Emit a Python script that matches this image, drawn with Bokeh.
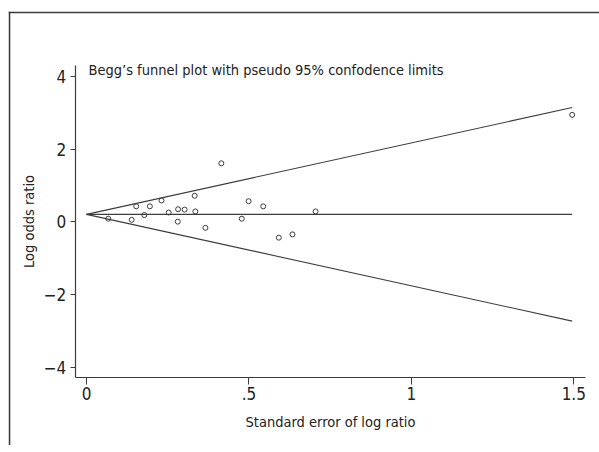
from bokeh.plotting import figure
from bokeh.models import FixedTicker, Range1d, Label, ColumnDataSource, Span
from bokeh.embed import file_html
from bokeh.resources import INLINE

# ---- data ----
se = [0.415, 0.153, 0.195, 0.231, 0.333, 0.499, 0.544, 0.067, 0.139, 0.178, 0.253,
      0.282, 0.302, 0.335, 0.281, 0.366, 0.478, 0.592, 0.634, 0.705, 1.495]
log_or = [1.61, 0.43, 0.43, 0.59, 0.72, 0.57, 0.43, 0.09, 0.06, 0.19, 0.26,
          0.35, 0.34, 0.29, 0.01, -0.16, 0.09, -0.43, -0.34, 0.29, 2.94]
pooled = 0.21
z95 = 1.96

x_ticks = [0, 0.5, 1, 1.5]
x_tick_labels = ["0", ".5", "1", "1.5"]
y_ticks = [-4, -2, 0, 2, 4]
y_tick_labels = ["\u22124", "\u22122", "0", "2", "4"]

title_text = "Begg\u2019s funnel plot with pseudo 95% confodence limits"
x_title = "Standard error of log ratio"
y_title = "Log odds ratio"

FONT = "DejaVu Sans Condensed"
INK = "#3c3c3c"
TXT = "#222222"

# axis extents (data units) and the surrounding page frame
X_AXIS_BOUNDS = (-0.0348, 1.536)
Y_AXIS_BOUNDS = (-4.258, 4.293)

se_max = max(se)
funnel = ColumnDataSource(dict(
    x=[0, se_max],
    mid=[pooled, pooled],
    up=[pooled, pooled + z95 * se_max],
    lo=[pooled, pooled - z95 * se_max],
))
pts = ColumnDataSource(dict(x=se, y=log_or))

p = figure(width=599, height=445, output_backend="svg", toolbar_location=None,
           x_range=Range1d(-0.2401, 1.5791), y_range=Range1d(-6.132, 5.775),
           min_border_left=8, min_border_right=0, min_border_top=11, min_border_bottom=0)
p.outline_line_color = None
p.xgrid.visible = False
p.ygrid.visible = False
p.background_fill_color = "white"
p.border_fill_color = "white"

# outer frame lines (top and left)
p.add_layout(Span(location=5.750, dimension="width", line_color=INK, line_width=1.8))
p.add_layout(Span(location=-0.2373, dimension="height", line_color=INK, line_width=1.8))

for col in ["mid", "up", "lo"]:
    p.line("x", col, source=funnel, line_color=INK, line_width=1.1)

p.scatter("x", "y", source=pts, size=5, marker="circle", fill_color=None,
          line_color=INK, line_width=1)

p.xaxis.ticker = FixedTicker(ticks=x_ticks)
p.xaxis.major_label_overrides = dict(zip(x_ticks, x_tick_labels))
p.yaxis.ticker = FixedTicker(ticks=y_ticks)
p.yaxis.major_label_overrides = dict(zip(y_ticks, y_tick_labels))

p.xaxis.fixed_location = Y_AXIS_BOUNDS[0]
p.xaxis.bounds = X_AXIS_BOUNDS
p.yaxis.fixed_location = X_AXIS_BOUNDS[0]
p.yaxis.bounds = Y_AXIS_BOUNDS

for ax in (p.xaxis[0], p.yaxis[0]):
    ax.axis_line_color = INK
    ax.axis_line_width = 1.2
    ax.major_tick_line_color = INK
    ax.major_tick_line_width = 1
    ax.major_tick_in = 0
    ax.minor_tick_line_color = None
    ax.major_label_text_font = FONT
    ax.major_label_text_font_size = "17px"
    ax.major_label_text_color = TXT
    ax.axis_label_text_font = FONT
    ax.axis_label_text_font_size = "14.5px"
    ax.axis_label_text_font_style = "normal"
    ax.axis_label_text_color = TXT

p.xaxis.major_tick_out = 7
p.xaxis.major_label_standoff = 3
p.xaxis.axis_label = x_title
p.xaxis.axis_label_standoff = 10
p.yaxis.major_tick_out = 5
p.yaxis.major_label_standoff = 4
p.yaxis.axis_label = y_title
p.yaxis.axis_label_standoff = 4

p.add_layout(Label(x=0.006, y=4.18, text=title_text, text_font=FONT,
                   text_font_size="14.5px", text_color=TXT, text_baseline="alphabetic",
                   text_align="left"))

open("out.html", "w").write(file_html(p, INLINE))
